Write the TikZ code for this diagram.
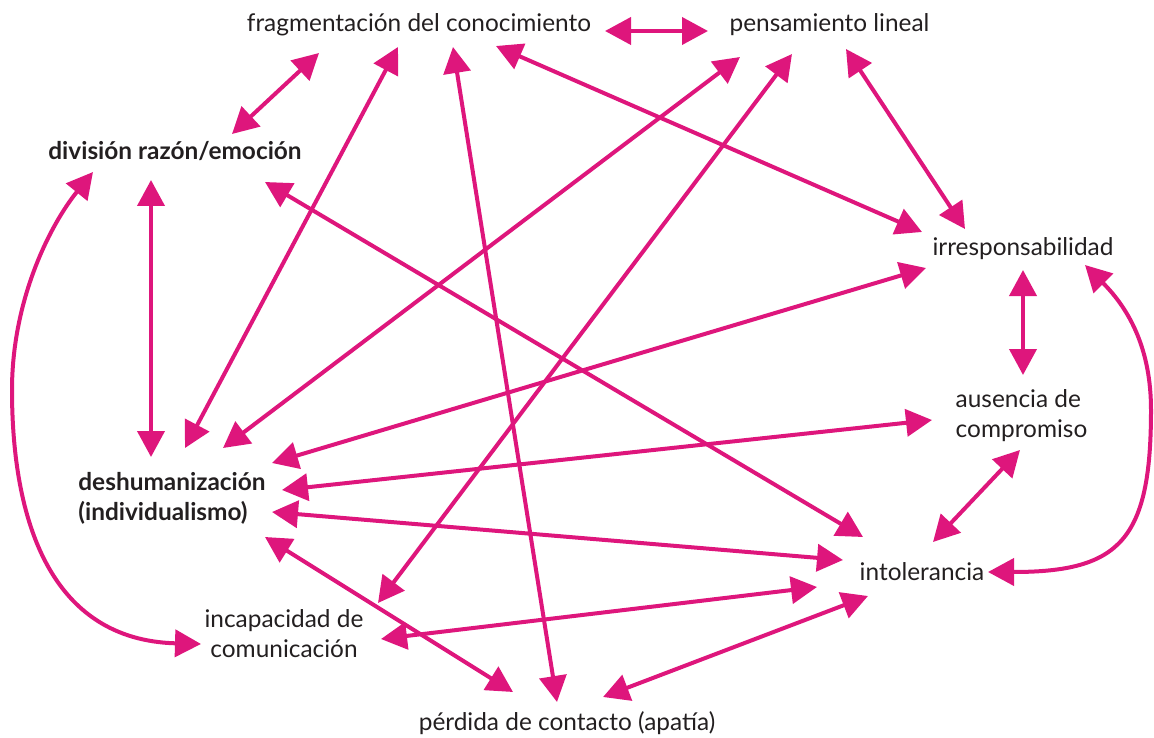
\documentclass[tikz,border=0pt]{standalone}
\usepackage{fontspec}
\setmainfont{Lato}
\usetikzlibrary{arrows.meta}
\definecolor{mag}{RGB}{222,22,124}
\definecolor{ink}{RGB}{35,31,32}
\begin{document}
\begin{tikzpicture}[x=1pt,y=-1pt,
  lab/.style={inner sep=0pt, text=ink, anchor=base, font=\fontsize{24.4}{30}\selectfont},
  bold/.style={font=\fontsize{24.4}{30}\selectfont\bfseries},
  link/.style={draw=mag, line width=4pt,
    {Triangle[length=26pt,width=27pt]}-{Triangle[length=26pt,width=27pt]}}]
\useasboundingbox (0,0) rectangle (1154,738);
% nodes
\node[lab] (frag) at (419,32) {fragmentación del conocimiento};
\node[lab] (pens) at (829.5,32) {pensamiento lineal};
\node[lab,bold] (div) at (175,160) {división razón/emoción};
\node[lab] (irr) at (1023,255) {irresponsabilidad};
\node[lab] (aus) at (1021.5,407) {\begin{tabular}[t]{@{}l@{}}ausencia de\\compromiso\end{tabular}};
\node[lab,bold] (desh) at (172,490) {\begin{tabular}[t]{@{}l@{}}deshumanización\\(individualismo)\end{tabular}};
\node[lab] (into) at (922,580) {intolerancia};
\node[lab] (inca) at (284,627) {\begin{tabular}[t]{@{}c@{}}incapacidad de\\comunicación\end{tabular}};
\node[lab] (perd) at (567,730) {pérdida de contacto (apatía)};
% connector ends
\coordinate (fragP) at (605,31);  \coordinate (pensF) at (708,31);
\coordinate (fragV) at (319,53);  \coordinate (divF) at (232,134);
\coordinate (fragD) at (398,47);  \coordinate (deshF) at (185,448);
\coordinate (fragA) at (453,47);  \coordinate (perdF) at (557,702);
\coordinate (fragI) at (496,46);  \coordinate (irrF) at (922,232);
\coordinate (pensD) at (740,57);  \coordinate (deshP) at (223,448);
\coordinate (pensC) at (792,54);  \coordinate (incaP) at (378,603);
\coordinate (pensI) at (846,49);  \coordinate (irrP) at (965,229);
\coordinate (divD) at (151,180);  \coordinate (deshV) at (151,457);
\coordinate (divT) at (265,182);  \coordinate (intoV) at (863,537);
\coordinate (divC) at (93,172);   \coordinate (incaV) at (201,644);
\coordinate (irrD) at (926,268);  \coordinate (deshI) at (272,463);
\coordinate (irrA) at (1023,270); \coordinate (ausI) at (1023,375);
\coordinate (irrT) at (1085,265); \coordinate (intoI) at (988,572);
\coordinate (ausD) at (932,420);  \coordinate (deshA) at (282,490);
\coordinate (ausT) at (1020,450); \coordinate (intoA) at (933,542);
\coordinate (deshT) at (272,512); \coordinate (intoD) at (843,560);
\coordinate (deshR) at (265,537); \coordinate (perdD) at (513,692);
\coordinate (incaT) at (381,639); \coordinate (intoC) at (817,587);
\coordinate (perdT) at (603,697); \coordinate (intoR) at (868,596);
% connectors
\draw[link] (fragP) -- (pensF);
\draw[link] (fragV) -- (divF);
\draw[link] (fragD) -- (deshF);
\draw[link] (fragA) -- (perdF);
\draw[link] (fragI) -- (irrF);
\draw[link] (pensD) -- (deshP);
\draw[link] (pensC) -- (incaP);
\draw[link] (pensI) -- (irrP);
\draw[link] (divD) -- (deshV);
\draw[link] (divT) -- (intoV);
\draw[link] (divC) .. controls (50,225) and (12,300) .. (12,390)
                  .. controls (12,520) and (50,640) .. (incaV);
\draw[link] (irrD) -- (deshI);
\draw[link] (irrA) -- (ausI);
\draw[link] (irrT) .. controls (1130,310) and (1151,350) .. (1151,410)
                  .. controls (1151,540) and (1120,572) .. (intoI);
\draw[link] (ausD) -- (deshA);
\draw[link] (ausT) -- (intoA);
\draw[link] (deshT) -- (intoD);
\draw[link] (deshR) -- (perdD);
\draw[link] (incaT) -- (intoC);
\draw[link] (perdT) -- (intoR);
\end{tikzpicture}
\end{document}
